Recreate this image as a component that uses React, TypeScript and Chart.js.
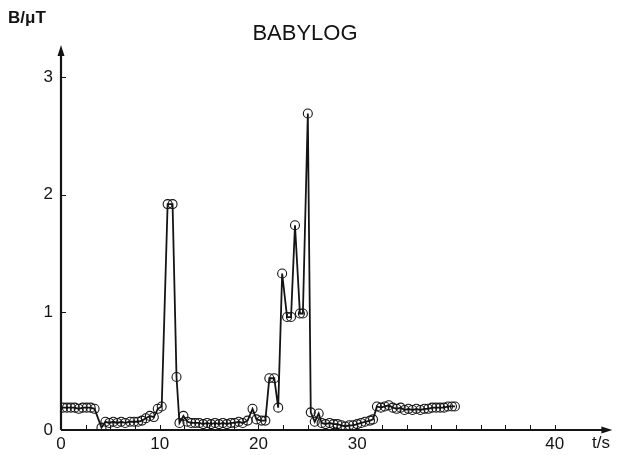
import React, { useEffect, useRef } from "react";
import { Chart, registerables } from "chart.js";

Chart.register(...registerables);

// time axis values (axis units) and field values in µT
const tValues = [
  0.2, 0.6, 1.0, 1.4, 1.8, 2.2, 2.6, 3.0, 3.4,
  4.1, 4.5, 4.9, 5.3, 5.7, 6.1, 6.5, 7.0, 7.4, 7.8, 8.2, 8.6, 9.0, 9.4, 9.8, 10.2,
  10.8, 11.3, 11.7, 12.0, 12.4, 12.8, 13.2, 13.6, 14.0, 14.4, 14.8, 15.2, 15.6, 16.0,
  16.4, 16.8, 17.2, 17.6, 18.0, 18.4, 18.9,
  19.4, 19.8, 20.3, 20.7, 21.1, 21.6, 22.0, 22.4, 22.9, 23.3, 23.7, 24.2, 24.5, 25.0,
  25.3, 25.7, 26.1, 26.4,
  26.8, 27.2, 27.6, 28.0, 28.4, 28.8, 29.2, 29.6, 30.0, 30.4, 30.8, 31.3, 31.6,
  32.0, 32.4, 32.8, 33.2, 33.6, 34.0, 34.4, 34.8, 35.2, 35.6, 36.0, 36.4, 36.8, 37.2,
  37.6, 38.0, 38.4, 38.8, 39.2, 39.6, 39.9,
];
const bValues = [
  0.19, 0.19, 0.19, 0.19, 0.18, 0.19, 0.19, 0.19, 0.18,
  0.02, 0.07, 0.06, 0.07, 0.06, 0.07, 0.06, 0.07, 0.07, 0.07, 0.08, 0.10, 0.12, 0.11, 0.18, 0.20,
  1.92, 1.92, 0.45, 0.06, 0.12, 0.07, 0.06, 0.06, 0.06, 0.05, 0.06, 0.05, 0.06, 0.05,
  0.06, 0.05, 0.06, 0.06, 0.07, 0.06, 0.08,
  0.18, 0.09, 0.08, 0.08, 0.44, 0.44, 0.19, 1.33, 0.96, 0.96, 1.74, 0.99, 0.99, 2.69,
  0.15, 0.07, 0.14, 0.06,
  0.05, 0.06, 0.05, 0.05, 0.04, 0.03, 0.04, 0.04, 0.05, 0.06, 0.07, 0.08, 0.09,
  0.20, 0.19, 0.20, 0.21, 0.19, 0.18, 0.19, 0.17, 0.18, 0.17, 0.18, 0.17, 0.18, 0.18,
  0.19, 0.19, 0.19, 0.19, 0.20, 0.20, 0.20,
];

// tick positions on the time axis and the labels printed there
const xTickValues = [0, 10, 20, 30, 50];
const xTickLabels = ["0", "10", "20", "30", "40"];
const yTickValues = [0, 1, 2, 3];
const yTickLabels = ["0", "1", "2", "3"];
const xMinorStep = 2.5;

const title = "BABYLOG";
const yAxisTitle = "B/\u03bcT";
const xAxisTitle = "t/s";

const FONT = "'Liberation Sans', Arial, Helvetica, sans-serif";
const INK = "#141414";

const axesPlugin = {
  id: "axesPlugin",
  beforeDatasetsDraw(chart: any) {
    const { ctx, chartArea, scales } = chart;
    const xs = scales.x;
    const ys = scales.y;
    const x0 = xs.getPixelForValue(0);
    const y0 = ys.getPixelForValue(0);
    ctx.save();
    ctx.strokeStyle = INK;
    ctx.fillStyle = INK;
    ctx.lineWidth = 2.2;
    // axis lines
    ctx.beginPath();
    ctx.moveTo(x0, y0);
    ctx.lineTo(chartArea.right - 6, y0);
    ctx.moveTo(x0, y0);
    ctx.lineTo(x0, chartArea.top + 6);
    ctx.stroke();
    // arrow heads
    ctx.beginPath();
    ctx.moveTo(chartArea.right, y0);
    ctx.lineTo(chartArea.right - 11, y0 - 3.5);
    ctx.lineTo(chartArea.right - 11, y0 + 3.5);
    ctx.closePath();
    ctx.fill();
    ctx.beginPath();
    ctx.moveTo(x0, chartArea.top);
    ctx.lineTo(x0 - 3.5, chartArea.top + 11);
    ctx.lineTo(x0 + 3.5, chartArea.top + 11);
    ctx.closePath();
    ctx.fill();
    // tick marks
    ctx.lineWidth = 1;
    ctx.beginPath();
    for (let v = xMinorStep; v <= 50.01; v += xMinorStep) {
      const px = Math.round(xs.getPixelForValue(v)) + 0.5;
      ctx.moveTo(px, y0);
      ctx.lineTo(px, y0 - 5);
    }
    for (const v of yTickValues) {
      if (v === 0) continue;
      const py = Math.round(ys.getPixelForValue(v)) + 0.5;
      ctx.moveTo(x0, py);
      ctx.lineTo(x0 + 5, py);
    }
    ctx.stroke();
    ctx.restore();
  },
  afterDraw(chart: any) {
    const { ctx } = chart;
    ctx.save();
    ctx.fillStyle = INK;
    ctx.textBaseline = "middle";
    ctx.textAlign = "center";
    ctx.font = `22px ${FONT}`;
    ctx.fillText(title, 305, 34);
    ctx.textAlign = "left";
    ctx.font = `bold 17px ${FONT}`;
    ctx.fillText(yAxisTitle, 8, 18);
    ctx.font = `17px ${FONT}`;
    ctx.fillText(xAxisTitle, 592, 443);
    ctx.restore();
  },
};

export default function App() {
  const canvasRef = useRef<HTMLCanvasElement | null>(null);

  useEffect(() => {
    const canvas = canvasRef.current;
    if (!canvas) return;
    const points = tValues.map((t, i) => ({ x: t, y: bValues[i] }));
    const chart = new Chart(canvas, {
      type: "line",
      data: {
        datasets: [
          {
            data: points,
            borderColor: INK,
            borderWidth: 1.8,
            pointRadius: 4.5,
            pointBorderWidth: 1.1,
            pointBorderColor: INK,
            pointBackgroundColor: "rgba(0,0,0,0)",
            tension: 0,
            fill: false,
          },
        ],
      },
      options: {
        responsive: false,
        animation: false,
        devicePixelRatio: 1,
        layout: { padding: { left: 0, top: 45, right: 3, bottom: 0 } },
        plugins: {
          legend: { display: false },
          tooltip: { enabled: false },
          title: { display: false },
        },
        scales: {
          x: {
            type: "linear",
            min: 0,
            max: 55.85,
            grid: { display: false, drawTicks: false },
            border: { display: false },
            afterBuildTicks: (scale: any) => {
              scale.ticks = xTickValues.map((v) => ({ value: v }));
            },
            afterFit: (scale: any) => {
              scale.height = 25;
            },
            ticks: {
              padding: 4,
              color: INK,
              font: { family: FONT, size: 17 },
              maxRotation: 0,
              autoSkip: false,
              callback: (value: any) => {
                const i = xTickValues.indexOf(Number(value));
                return i >= 0 ? xTickLabels[i] : "";
              },
            },
          },
          y: {
            type: "linear",
            min: 0,
            max: 3.272,
            grid: { display: false, drawTicks: false },
            border: { display: false },
            afterBuildTicks: (scale: any) => {
              scale.ticks = yTickValues.map((v) => ({ value: v }));
            },
            afterFit: (scale: any) => {
              scale.width = 61;
            },
            ticks: {
              padding: 8,
              color: INK,
              font: { family: FONT, size: 17 },
              autoSkip: false,
              callback: (value: any) => {
                const i = yTickValues.indexOf(Number(value));
                return i >= 0 ? yTickLabels[i] : "";
              },
            },
          },
        },
      },
      plugins: [axesPlugin],
    });
    return () => chart.destroy();
  }, []);

  return (
    <div style={{ position: "fixed", left: 0, top: 0, width: 618, height: 455, background: "#fff" }}>
      <canvas ref={canvasRef} width={618} height={455} style={{ display: "block", width: 618, height: 455 }} />
    </div>
  );
}
